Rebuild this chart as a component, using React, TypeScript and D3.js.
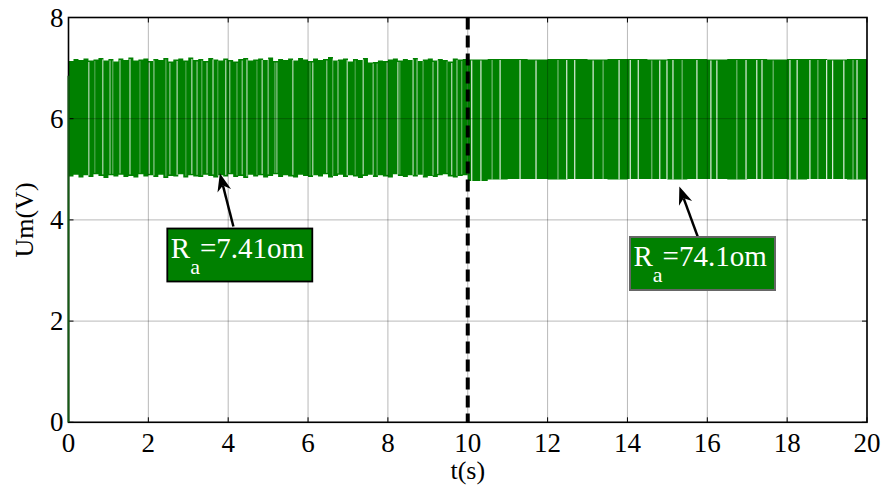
import React from "react";
import * as d3 from "d3";

// ---- data ----
const xTicks = [0, 2, 4, 6, 8, 10, 12, 14, 16, 18, 20];
const yTicks = [0, 2, 4, 6, 8];
const switchTime = 10;
const startLevel = 6.85;

// first half envelope, one value every 0.125 s from t=0 to t=10
const upper1 = [
  7.14, 7.18, 7.16, 7.19, 7.15, 7.17, 7.20, 7.15, 7.18, 7.13, 7.19, 7.16, 7.21, 7.15, 7.17, 7.19,
  7.14, 7.18, 7.16, 7.20, 7.13, 7.17, 7.19, 7.15, 7.21, 7.16, 7.18, 7.14, 7.20, 7.17, 7.15, 7.19,
  7.16, 7.13, 7.18, 7.20, 7.15, 7.17, 7.19, 7.16, 7.21, 7.14, 7.18, 7.16, 7.19, 7.15, 7.20, 7.17,
  7.14, 7.19, 7.16, 7.18, 7.22, 7.15, 7.17, 7.19, 7.13, 7.18, 7.16, 7.20, 7.11, 7.12, 7.15, 7.14,
  7.17, 7.19, 7.15, 7.18, 7.16, 7.20, 7.14, 7.17, 7.19, 7.15, 7.18, 7.16, 7.13, 7.19, 7.17, 7.18,
];
const lower1 = [
  4.86, 4.89, 4.84, 4.88, 4.85, 4.90, 4.87, 4.83, 4.88, 4.86, 4.89, 4.85, 4.87, 4.84, 4.90, 4.86,
  4.88, 4.85, 4.89, 4.83, 4.87, 4.86, 4.90, 4.84, 4.88, 4.86, 4.85, 4.89, 4.87, 4.84, 4.88, 4.86,
  4.90, 4.85, 4.87, 4.83, 4.89, 4.86, 4.88, 4.84, 4.87, 4.90, 4.85, 4.88, 4.86, 4.84, 4.89, 4.87,
  4.85, 4.88, 4.86, 4.90, 4.84, 4.87, 4.89, 4.85, 4.88, 4.86, 4.83, 4.87, 4.89, 4.85, 4.88, 4.86,
  4.84, 4.90, 4.87, 4.85, 4.88, 4.86, 4.89, 4.84, 4.87, 4.85, 4.88, 4.90, 4.86, 4.84, 4.87, 4.88,
];
// second half envelope, one value every 0.5 s from t=10 to t=20
const upper2 = [
  7.17, 7.18, 7.18, 7.17, 7.18, 7.18, 7.17, 7.18, 7.18, 7.17,
  7.18, 7.18, 7.17, 7.18, 7.18, 7.17, 7.18, 7.18, 7.17, 7.18,
];
const lower2 = [
  4.77, 4.80, 4.81, 4.81, 4.80, 4.81, 4.81, 4.80, 4.81, 4.81,
  4.80, 4.81, 4.81, 4.80, 4.81, 4.81, 4.80, 4.81, 4.81, 4.80,
];
// times where the switching pauses (white stripes)
const gaps1 = [
  0.51, 0.66, 0.86, 1.04, 1.11, 1.29, 1.54, 1.79, 2.02, 2.14, 2.44, 2.54, 2.72, 2.94, 3.09, 3.22,
  3.34, 3.47, 3.62, 3.74, 3.94, 4.04, 4.22, 4.35, 4.47, 4.72, 4.85, 5.0, 5.17, 5.22, 5.62, 6.05,
  6.12, 6.47, 6.62, 6.75, 6.98, 7.18, 7.38, 7.63, 7.73, 7.98, 8.25, 8.30, 8.63, 8.73, 8.88, 9.13,
  9.25, 9.48, 9.60, 9.73, 9.85,
];
const gaps2 = [
  10.10, 10.33, 10.61, 10.81, 11.31, 11.71, 12.26, 12.48, 12.68, 13.14, 13.39, 13.79, 14.07, 14.27,
  14.61, 14.81, 14.99, 15.14, 15.37, 15.74, 16.09, 16.24, 16.74, 16.97, 17.24, 17.37, 17.65, 18.07,
  18.25, 18.57, 18.77, 18.99, 19.14, 19.42, 19.65, 19.75,
];
const labels = [
  { sub: "a", rest: "=7.41om", tip: [3.79, 4.92], tail: [4.13, 3.87] },
  { sub: "a", rest: "=74.1om", tip: [15.3, 4.66], tail: [15.76, 3.67] },
];

const W = 885;
const H = 492;
const left = 68.5, right = 867, top = 17.5, bottom = 422.3;
const font = '"Liberation Serif", "Times New Roman", "DejaVu Serif", serif';
const GREEN = "#008000";

export default function App() {
  const x = d3.scaleLinear().domain([0, 20]).range([left, right]);
  const y = d3.scaleLinear().domain([0, 8]).range([bottom, top]);

  type P = { t: number; hi: number; lo: number };
  const pts1: P[] = upper1.map((u, i) => ({ t: i * 0.125, hi: u, lo: lower1[i] }));
  pts1.push({ t: switchTime, hi: upper1[upper1.length - 1], lo: lower1[lower1.length - 1] });
  const pts2: P[] = upper2.map((u, i) => ({ t: switchTime + i * 0.5, hi: u, lo: lower2[i] }));
  pts2.push({ t: 20, hi: upper2[upper2.length - 1], lo: lower2[lower2.length - 1] });

  const area = d3
    .area<P>()
    .x((d) => x(d.t))
    .y0((d) => y(d.lo))
    .y1((d) => y(d.hi))
    .curve(d3.curveStepAfter);

  const envAt = (pts: P[], t: number) => {
    let p = pts[0];
    for (const q of pts) if (q.t <= t) p = q;
    return p;
  };

  const boxes = [
    { x0: 167.3, y0: 228.5, w: 145, h: 53, stroke: "#000", sw: 1.8 },
    { x0: 630, y0: 237, w: 145, h: 53, stroke: "#666", sw: 2 },
  ];
  const ts = { fontFamily: font };

  return (
    <svg width={W} height={H} style={{ position: "absolute", left: 0, top: 0, background: "#fff" }}>
      <rect x={0} y={0} width={W} height={H} fill="#fff" />
      {/* signal band */}
      <path d={area(pts1) || ""} fill={GREEN} />
      <path d={area(pts2) || ""} fill={GREEN} />
      {gaps1.map((g, i) => {
        const p = envAt(pts1, g);
        return (
          <line key={"g1" + i} x1={x(g)} x2={x(g)} y1={y(p.hi) + 1.5} y2={y(p.lo) - 1.5}
            stroke="#fff" strokeWidth={i % 2 === 0 ? 1 : 0.8} opacity={i % 3 === 1 ? 0.45 : 0.85} />
        );
      })}
      {gaps2.map((g, i) => {
        const p = envAt(pts2, g);
        return (
          <line key={"g2" + i} x1={x(g)} x2={x(g)} y1={y(p.hi) + 1} y2={y(p.lo)}
            stroke="#fff" strokeWidth={1.1} opacity={i % 4 === 2 ? 0.5 : 0.95} />
        );
      })}
      {/* grid */}
      {xTicks.map((t) => (
        <line key={"gx" + t} x1={x(t)} x2={x(t)} y1={top} y2={bottom} stroke="#000" strokeOpacity={0.28} strokeWidth={1} />
      ))}
      {yTicks.map((v) => (
        <line key={"gy" + v} x1={left} x2={right} y1={y(v)} y2={y(v)} stroke="#000" strokeOpacity={0.28} strokeWidth={1} />
      ))}
      {/* ticks */}
      {xTicks.map((t) => (
        <g key={"tx" + t}>
          <line x1={x(t)} x2={x(t)} y1={bottom} y2={bottom - 5} stroke="#000" strokeWidth={1} />
          <line x1={x(t)} x2={x(t)} y1={top} y2={top + 5} stroke="#000" strokeWidth={1} />
        </g>
      ))}
      {yTicks.map((v) => (
        <g key={"ty" + v}>
          <line x1={left} x2={left + 5} y1={y(v)} y2={y(v)} stroke="#000" strokeWidth={1} />
          <line x1={right} x2={right - 5} y1={y(v)} y2={y(v)} stroke="#000" strokeWidth={1} />
        </g>
      ))}
      {/* box */}
      <rect x={left} y={top} width={right - left} height={bottom - top} fill="none" stroke="#000" strokeWidth={1.6} />
      {/* start-up edge */}
      <line x1={x(0)} x2={x(0)} y1={y(0)} y2={y(startLevel)} stroke="#155a15" strokeWidth={2} />
      {/* switching instant */}
      <line x1={x(switchTime)} x2={x(switchTime)} y1={top} y2={bottom} stroke="#000" strokeWidth={4} strokeDasharray="12,6" />
      {/* tick labels */}
      {xTicks.map((t) => (
        <text key={"lx" + t} x={x(t)} y={452} textAnchor="middle" style={ts} fontSize={27} fill="#000">
          {t}
        </text>
      ))}
      {yTicks.map((v) => (
        <text key={"ly" + v} x={left - 5} y={y(v) + 9} textAnchor="end" style={ts} fontSize={27} fill="#000">
          {v}
        </text>
      ))}
      <text x={x(10)} y={479} textAnchor="middle" style={ts} fontSize={26} fill="#000">t(s)</text>
      <text transform={`translate(33,${220}) rotate(-90)`} textAnchor="middle" style={ts} fontSize={26} fill="#000">
        Um(V)
      </text>
      {/* annotations */}
      {labels.map((l, i) => {
        const b = boxes[i];
        const tx = x(l.tip[0]), ty = y(l.tip[1]);
        const sx = x(l.tail[0]), sy = y(l.tail[1]);
        const ang = Math.atan2(ty - sy, tx - sx);
        const len = 18, hw = 7;
        const bx = tx - len * Math.cos(ang), by = ty - len * Math.sin(ang);
        const px = -Math.sin(ang), py = Math.cos(ang);
        const nx = bx + 0.3 * len * Math.cos(ang), ny = by + 0.3 * len * Math.sin(ang);
        const head = `M${tx},${ty}L${bx + px * hw},${by + py * hw}L${nx},${ny}L${bx - px * hw},${by - py * hw}Z`;
        return (
          <g key={"an" + i}>
            <line x1={sx} y1={sy} x2={nx} y2={ny} stroke="#000" strokeWidth={2.5} />
            <path d={head} fill="#000" />
            <rect x={b.x0} y={b.y0} width={b.w} height={b.h} fill={GREEN} stroke={b.stroke} strokeWidth={b.sw} />
            <text x={b.x0 + 3.5} y={b.y0 + 29} style={ts} fontSize={29} fill="#fff">
              R
              <tspan dy={16} fontSize={22}>{l.sub}</tspan>
              <tspan dy={-16}>{l.rest}</tspan>
            </text>
          </g>
        );
      })}
    </svg>
  );
}
